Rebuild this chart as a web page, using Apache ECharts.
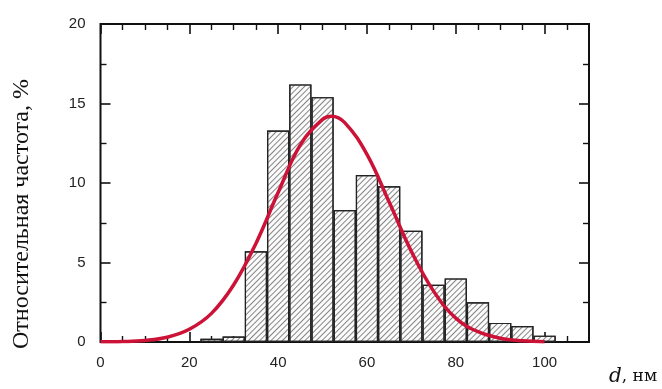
<!DOCTYPE html>
<html>
<head>
<meta charset="utf-8">
<script src="https://cdn.jsdelivr.net/npm/echarts@6/dist/echarts.min.js"></script>
<style>
  html, body { margin: 0; padding: 0; background: #fff; }
  #main { width: 662px; height: 389px; }
</style>
</head>
<body>
<div id="main"></div>
<script>
// histogram bins (centres, nm) and relative frequency, %
const binCenters = [10, 25, 30, 35, 40, 45, 50, 55, 60, 65, 70, 75, 80, 85, 90, 95, 100];
const binValues  = [0.1, 0.2, 0.35, 5.7, 13.3, 16.2, 15.4, 8.3, 10.5, 9.8, 7.0, 3.6, 4.0, 2.5, 1.2, 1.0, 0.4];
// fitted curve
const fitX = [0, 5, 10, 15, 20, 25, 30, 35, 40, 45, 50, 52, 55, 60, 65, 70, 75, 80, 85, 90, 95, 100];
const fitY = [0.01, 0.03, 0.1, 0.3, 0.8, 1.8, 3.6, 6.2, 9.4, 12.4, 14.0, 14.2, 13.8, 11.8, 8.8, 5.7, 3.2, 1.5, 0.65, 0.24, 0.08, 0.02];
const xTicks = [0, 20, 40, 60, 80, 100];
const yTicks = [0, 5, 10, 15, 20];

const gridLeft = 100.5, gridRight = 73, gridTop = 24, gridBottom = 47;
const xMin = 0, xMax = 110, binWidth = 5;
const gridW = 662 - gridLeft - gridRight;

const chart = echarts.init(document.getElementById('main'));

// ticks point inwards on all four sides, like the original plot frame
function frameAxis(extra, splitNumber) {
  return Object.assign({
    type: 'value',
    axisLine: { show: false, onZero: false },
    axisTick: { show: true, inside: true, length: 10, lineStyle: { color: '#111', width: 1.6 } },
    minorTick: { show: true, splitNumber: splitNumber, length: 6, lineStyle: { color: '#111', width: 1.4 } },
    splitLine: { show: false }
  }, extra);
}

const option = {
  backgroundColor: '#fff',
  animation: false,
  aria: { enabled: true, decal: { show: true } },
  grid: {
    left: gridLeft, right: gridRight, top: gridTop, bottom: gridBottom,
    show: true, borderColor: '#111', borderWidth: 2
  },
  xAxis: [
    frameAxis({
      min: xMin, max: xMax, interval: 20, position: 'bottom',
      axisLabel: {
        color: '#222', fontFamily: 'Liberation Sans', fontSize: 15, margin: 13,
        formatter: v => (xTicks.includes(v) ? String(v) : '')
      }
    }, 4),
    frameAxis({ min: xMin, max: xMax, interval: 20, position: 'top', axisLabel: { show: false } }, 4)
  ],
  yAxis: [
    frameAxis({
      min: 0, max: 20, interval: 5, position: 'left',
      axisLabel: {
        color: '#222', fontFamily: 'Liberation Sans', fontSize: 15, margin: 15,
        formatter: v => (yTicks.includes(v) ? String(v) : '')
      }
    }, 2),
    frameAxis({ min: 0, max: 20, interval: 5, position: 'right', axisLabel: { show: false } }, 2)
  ],
  graphic: [
    {
      type: 'text', x: 22, y: 214, rotation: Math.PI / 2,
      style: {
        text: 'Относительная частота, %', fill: '#111',
        font: '24px "Liberation Serif"', align: 'center', verticalAlign: 'middle'
      }
    },
    {
      type: 'text', x: 609, y: 377,
      style: {
        text: '{i|d}{n|, нм}', fill: '#111', verticalAlign: 'middle',
        rich: {
          i: { fontStyle: 'italic', fontFamily: 'DejaVu Serif', fontSize: 20, fill: '#111' },
          n: { fontFamily: 'DejaVu Serif', fontSize: 17, fill: '#111' }
        }
      }
    }
  ],
  series: [
    {
      type: 'bar',
      xAxisIndex: 0, yAxisIndex: 0,
      barWidth: binWidth * gridW / (xMax - xMin),
      data: binCenters.map((c, i) => [c, binValues[i]]),
      itemStyle: {
        color: '#fbfbfb', borderColor: '#222', borderWidth: 1.2,
        decal: {
          symbol: 'rect', symbolSize: 1,
          dashArrayX: [[1, 0]], dashArrayY: [1, 2.2],
          rotation: -Math.PI / 4, color: 'rgba(70,70,70,0.65)'
        }
      },
      z: 2
    },
    {
      type: 'line',
      xAxisIndex: 0, yAxisIndex: 0,
      smooth: 0.4, showSymbol: false,
      data: fitX.map((x, i) => [x, fitY[i]]),
      lineStyle: { color: '#cc1236', width: 3.5 },
      itemStyle: { color: '#cc1236' },
      z: 3
    }
  ]
};

chart.setOption(option);
window.onresize = () => chart.resize();
</script>
</body>
</html>
